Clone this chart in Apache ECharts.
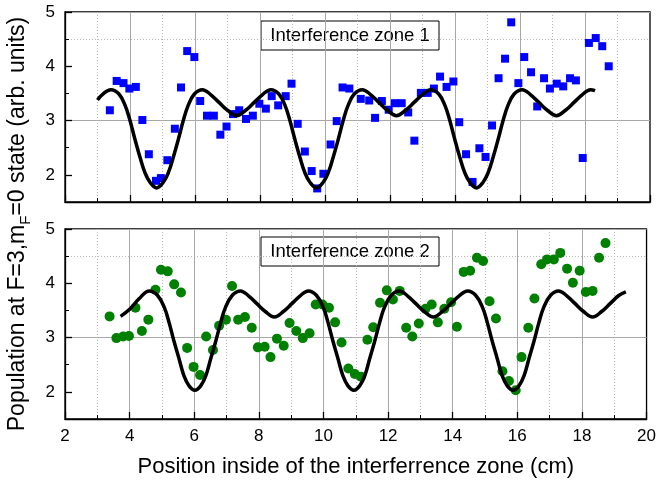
<!DOCTYPE html>
<html>
<head>
<meta charset="utf-8">
<script src="https://cdn.jsdelivr.net/npm/echarts@6/dist/echarts.min.js"></script>
<style>
  html, body { margin: 0; padding: 0; background: #fff; }
  #chart { width: 659px; height: 487px; }
</style>
</head>
<body>
<div id="chart"></div>
<script>
// zone 1 measurements (blue squares)
const zone1X = [3.38, 3.59, 3.80, 3.98, 4.18, 4.38, 4.58, 4.80, 4.95, 5.15, 5.38, 5.57, 5.76, 5.98,
  6.16, 6.37, 6.58, 6.78, 6.97, 7.17, 7.36, 7.57, 7.78, 7.98, 8.18, 8.36, 8.56, 8.79, 8.97,
  9.16, 9.38, 9.59, 9.76, 9.95, 10.17, 10.36, 10.54, 10.75, 11.10, 11.36, 11.54, 11.75, 11.96,
  12.15, 12.36, 12.56, 12.75, 12.95, 13.16, 13.35, 13.54, 13.74, 13.95, 14.13, 14.34, 14.54,
  14.75, 14.94, 15.14, 15.34, 15.54, 15.73, 15.95, 16.13, 16.34, 16.53, 16.74, 16.92, 17.13,
  17.33, 17.54, 17.72, 17.93, 18.12, 18.33, 18.53, 18.73];
const zone1Y = [3.19, 3.73, 3.69, 3.59, 3.62, 3.01, 2.38, 1.89, 1.94, 2.27, 2.85, 3.61, 4.28, 4.17,
  3.36, 3.09, 3.09, 2.74, 2.89, 3.12, 3.19, 3.03, 3.09, 3.31, 3.22, 3.45, 3.28, 3.45, 3.68,
  2.94, 2.43, 2.07, 1.75, 2.02, 2.56, 2.99, 3.61, 3.59, 3.40, 3.37, 3.05, 3.36, 3.20,
  3.32, 3.32, 3.15, 2.63, 3.51, 3.51, 3.59, 3.81, 3.62, 3.72, 2.97, 2.38, 1.87,
  2.49, 2.33, 2.91, 3.78, 4.14, 4.81, 3.69, 4.17, 3.89, 3.26, 3.78, 3.59, 3.68,
  3.63, 3.78, 3.74, 2.31, 4.43, 4.52, 4.37, 4.00];

// zone 1 fit curve
const fit1X = [3.0, 3.15, 3.41, 3.66, 3.85, 4.0, 4.15, 4.31, 4.46, 4.62, 4.82, 5.02, 5.18, 5.33,
  5.49, 5.64, 5.79, 5.98, 6.23, 6.48, 6.73, 7.0, 7.28, 7.56, 7.83, 8.08, 8.33, 8.58, 8.77,
  8.92, 9.07, 9.23, 9.38, 9.54, 9.74, 9.94, 10.1, 10.25, 10.41, 10.56, 10.71, 10.9, 11.15,
  11.4, 11.65, 11.92, 12.2, 12.48, 12.75, 13.0, 13.25, 13.5, 13.69, 13.84, 13.99, 14.15,
  14.3, 14.46, 14.66, 14.86, 15.02, 15.17, 15.33, 15.48, 15.63, 15.82, 16.07, 16.32, 16.57,
  16.84, 17.12, 17.4, 17.67, 17.92, 18.17, 18.31];
const fit1Y = [3.38, 3.48, 3.57, 3.49, 3.28, 3.0, 2.66, 2.32, 2.04, 1.86, 1.76, 1.86, 2.04, 2.32,
  2.66, 3.0, 3.28, 3.49, 3.57, 3.48, 3.34, 3.19, 3.09, 3.19, 3.34, 3.48, 3.57, 3.49, 3.28,
  3.0, 2.66, 2.32, 2.04, 1.86, 1.76, 1.86, 2.04, 2.32, 2.66, 3.0, 3.28, 3.49, 3.57,
  3.48, 3.34, 3.19, 3.09, 3.19, 3.34, 3.48, 3.57, 3.49, 3.28, 3.0, 2.66, 2.32,
  2.04, 1.86, 1.76, 1.86, 2.04, 2.32, 2.66, 3.0, 3.28, 3.49, 3.57, 3.48, 3.34,
  3.19, 3.09, 3.19, 3.34, 3.48, 3.57, 3.55];

// zone 2 measurements (green circles)
const zone2X = [3.38, 3.59, 3.80, 3.98, 4.18, 4.38, 4.58, 4.80, 4.97, 5.18, 5.38, 5.59, 5.78, 5.98,
  6.18, 6.37, 6.58, 6.77, 6.98, 7.17, 7.36, 7.57, 7.78, 7.97, 8.18, 8.36, 8.56, 8.77, 8.95,
  9.16, 9.36, 9.57, 9.76, 9.97, 10.17, 10.36, 10.56, 10.77, 10.97, 11.16, 11.36, 11.54, 11.75,
  11.96, 12.15, 12.36, 12.56, 12.75, 12.95, 13.16, 13.35, 13.54, 13.74, 13.95, 14.13, 14.34,
  14.54, 14.75, 14.94, 15.14, 15.34, 15.54, 15.74, 15.95, 16.13, 16.34, 16.53, 16.74, 16.92,
  17.13, 17.33, 17.54, 17.72, 17.93, 18.12, 18.33, 18.53, 18.73];
const zone2Y = [3.39, 2.99, 3.02, 3.03, 3.55, 3.12, 3.33, 3.88, 4.25, 4.22, 3.98, 3.83, 2.81, 2.46,
  2.31, 3.02, 2.77, 3.22, 3.33, 3.95, 3.33, 3.38, 3.18, 2.82, 2.83, 2.64, 2.98, 2.85, 3.27,
  3.12, 2.99, 3.08, 3.61, 3.61, 3.55, 3.28, 2.91, 2.43, 2.33, 2.28, 2.96, 3.19, 3.64,
  3.87, 3.70, 3.86, 3.18, 3.02, 3.26, 3.53, 3.61, 3.28, 3.53, 3.65, 3.20, 4.21,
  4.23, 4.47, 4.41, 3.67, 3.35, 2.38, 2.20, 2.03, 2.64, 3.18, 3.72, 4.35, 4.44,
  4.44, 4.56, 4.27, 4.01, 4.23, 3.84, 3.86, 4.47, 4.74];

// zone 2 fit curve
const fit2X = [3.72, 4.0, 4.3, 4.61, 4.86, 5.07, 5.22, 5.37, 5.53, 5.68, 5.84, 6.02, 6.2, 6.36,
  6.51, 6.67, 6.82, 6.97, 7.18, 7.43, 7.68, 7.93, 8.2, 8.48, 8.76, 9.03, 9.28, 9.53, 9.78,
  9.99, 10.14, 10.29, 10.45, 10.6, 10.76, 10.94, 11.12, 11.28, 11.43, 11.59, 11.74, 11.89,
  12.1, 12.35, 12.6, 12.85, 13.12, 13.4, 13.68, 13.95, 14.2, 14.46, 14.71, 14.92, 15.07,
  15.22, 15.38, 15.53, 15.69, 15.87, 16.05, 16.21, 16.36, 16.52, 16.67, 16.82, 17.03, 17.28,
  17.53, 17.78, 18.05, 18.33, 18.61, 18.88, 19.13, 19.36];
const fit2Y = [3.39, 3.52, 3.72, 3.86, 3.78, 3.56, 3.28, 2.94, 2.61, 2.30, 2.11, 2.03, 2.11, 2.30,
  2.61, 2.94, 3.28, 3.56, 3.78, 3.86, 3.77, 3.63, 3.48, 3.38, 3.48, 3.63, 3.77, 3.86, 3.78,
  3.56, 3.28, 2.94, 2.61, 2.30, 2.11, 2.03, 2.11, 2.30, 2.61, 2.94, 3.28, 3.56,
  3.78, 3.86, 3.77, 3.63, 3.48, 3.38, 3.48, 3.63, 3.77, 3.86, 3.78, 3.56, 3.28,
  2.94, 2.61, 2.30, 2.11, 2.03, 2.11, 2.30, 2.61, 2.94, 3.28, 3.56, 3.78, 3.86,
  3.77, 3.63, 3.48, 3.38, 3.48, 3.63, 3.77, 3.84];

const yTicks = [2, 3, 4, 5];
const yMinorTicks = [2.5, 3.5, 4.5];

const zip = (xs, ys) => xs.map((x, i) => [x, ys[i]]);

const font = '"Liberation Sans", Arial, sans-serif';
const majorGrid = '#a8a8a8';
const minorGrid = '#b8b8b8';
const clear = 'rgba(0,0,0,0)';

const chart = echarts.init(document.getElementById('chart'), null, { renderer: 'canvas' });

function xAxisFor(gridIndex, withLabels) {
  return {
    type: 'value', gridIndex: gridIndex, min: 2, max: 20, interval: 2,
    axisLine: { show: true, lineStyle: { color: '#000', width: 1.3 } },
    axisTick: { show: true, inside: true, length: 7, lineStyle: { color: '#000', width: 1.3 } },
    minorTick: { show: true, splitNumber: 2, length: 4, lineStyle: { color: '#000', width: 1 } },
    axisLabel: { show: withLabels, margin: 9, color: '#000', fontSize: 17, fontFamily: font },
    splitLine: { show: true, lineStyle: { color: [clear, majorGrid, majorGrid, majorGrid, majorGrid, majorGrid, majorGrid, majorGrid, majorGrid, clear], width: 1 } },
    minorSplitLine: { show: true, lineStyle: { color: minorGrid, type: [1, 2], width: 1 } }
  };
}

function yAxesFor(gridIndex) {
  return [{
    type: 'value', gridIndex: gridIndex, position: 'left', min: 1.5, max: 5, interval: 0.5,
    axisLine: { show: true, lineStyle: { color: '#000', width: 1.3 } },
    axisTick: { show: true, inside: true, length: 7, customValues: yTicks, lineStyle: { color: '#000', width: 1.3 } },
    axisLabel: { show: true, margin: 10, customValues: yTicks, color: '#000', fontSize: 17, fontFamily: font },
    splitLine: { show: true, lineStyle: { color: [clear, majorGrid, clear, majorGrid, clear, majorGrid, clear, clear], width: 1 } }
  }, {
    type: 'value', gridIndex: gridIndex, position: 'left', min: 1.5, max: 5, interval: 0.5,
    axisLine: { show: false },
    axisTick: { show: true, inside: true, length: 4, customValues: yMinorTicks, lineStyle: { color: '#000', width: 1 } },
    axisLabel: { show: false },
    splitLine: { show: true, lineStyle: { color: [clear, clear, minorGrid, clear, minorGrid, clear, minorGrid, clear], type: [1, 2], width: 1 } }
  }];
}

function legendBox(top, label) {
  return {
    type: 'group', z: 100,
    children: [
      { type: 'rect', shape: { x: 261, y: top, width: 178, height: 29 },
        style: { fill: '#fff', stroke: '#000', lineWidth: 1 } },
      { type: 'text', x: 350, y: top + 15,
        style: { text: label, fill: '#000', font: '18.5px ' + font, align: 'center', verticalAlign: 'middle' } }
    ]
  };
}

const option = {
  backgroundColor: '#fff',
  animation: false,
  grid: [
    { left: 65, right: 9, top: 12, height: 190, show: true, borderColor: '#000', borderWidth: 1.3 },
    { left: 65, right: 9, top: 229, height: 190, show: true, borderColor: '#000', borderWidth: 1.3 }
  ],
  xAxis: [
    xAxisFor(0, false),
    Object.assign(xAxisFor(1, true), {
      name: 'Position inside of the interferrence zone (cm)',
      nameLocation: 'middle', nameGap: 37,
      nameTextStyle: { color: '#000', fontSize: 22, fontFamily: font }
    })
  ],
  yAxis: yAxesFor(0).concat(yAxesFor(1)),
  graphic: [
    {
      type: 'text', x: 18, y: 224, rotation: Math.PI / 2, z: 100,
      style: {
        text: '{n|Population at F=3,m}{s|F}{n|=0 state (arb. units)}',
        align: 'center', verticalAlign: 'middle', fill: '#000',
        rich: {
          n: { fontSize: 23, fontFamily: font, lineHeight: 30, verticalAlign: 'middle', fill: '#000' },
          s: { fontSize: 15, fontFamily: font, lineHeight: 30, verticalAlign: 'bottom', fill: '#000' }
        }
      }
    },
    legendBox(21, 'Interference zone 1'),
    legendBox(237, 'Interference zone 2')
  ],
  series: [
    {
      type: 'scatter', xAxisIndex: 0, yAxisIndex: 0,
      symbol: 'rect', symbolSize: 8,
      itemStyle: { color: '#0000ff', opacity: 1 },
      data: zip(zone1X, zone1Y)
    },
    {
      type: 'line', xAxisIndex: 0, yAxisIndex: 0,
      showSymbol: false, smooth: 0.4, z: 5,
      lineStyle: { color: '#000', width: 3.5 },
      data: zip(fit1X, fit1Y)
    },
    {
      type: 'scatter', xAxisIndex: 1, yAxisIndex: 2,
      symbol: 'circle', symbolSize: 10,
      itemStyle: { color: '#008000', opacity: 1 },
      data: zip(zone2X, zone2Y)
    },
    {
      type: 'line', xAxisIndex: 1, yAxisIndex: 2,
      showSymbol: false, smooth: 0.4, z: 5,
      lineStyle: { color: '#000', width: 3.5 },
      data: zip(fit2X, fit2Y)
    }
  ]
};

chart.setOption(option);
</script>
</body>
</html>
